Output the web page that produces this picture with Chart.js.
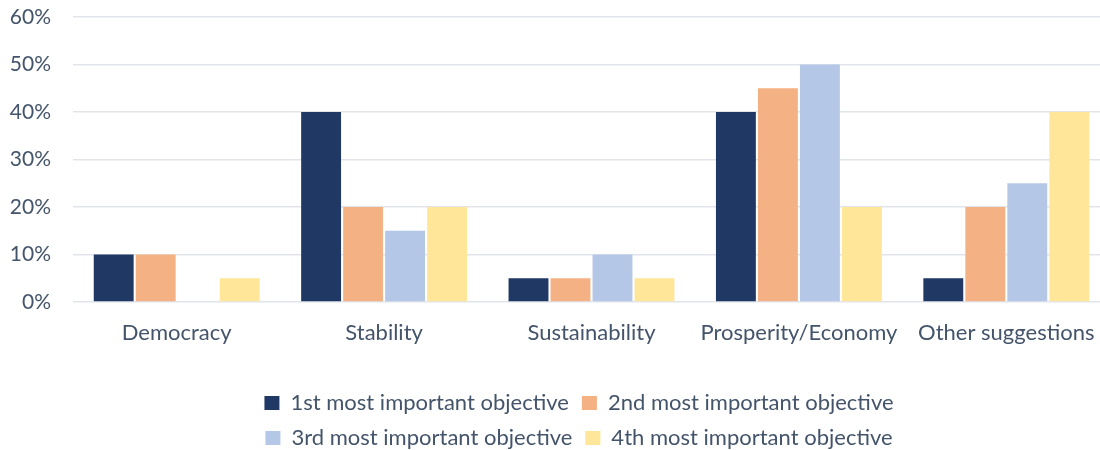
<!DOCTYPE html>
<html>
<head>
<meta charset="utf-8">
<script src="https://cdn.jsdelivr.net/npm/chart.js@4/dist/chart.umd.min.js"></script>
<style>
  html, body { margin: 0; padding: 0; background: #fff; }
  #wrap { width: 1100px; height: 450px; }
</style>
</head>
<body>
<div id="wrap"><canvas id="objectives" width="1100" height="450"></canvas></div>
<script>
const categories = ["Democracy", "Stability", "Sustainability", "Prosperity/Economy", "Other suggestions"];
const seriesNames = [
  "1st most important objective",
  "2nd most important objective",
  "3rd most important objective",
  "4th most important objective"
];
const first = [10, 40, 5, 40, 5];
const second = [10, 20, 5, 45, 20];
const third = [0, 15, 10, 50, 25];
const fourth = [5, 20, 5, 20, 40];
const yTicks = [0, 10, 20, 30, 40, 50, 60];

const colors = ["#203864", "#F4B183", "#B4C7E7", "#FFE699"];
const textColor = "#44546A";
const fontFamily = "Lato, 'Open Sans', sans-serif";

// legend: two rows of two items, sitting near the bottom edge
const LEGEND_W = 700;
const LEGEND_H = 100;
const LEGEND_CENTER = 579;
const LEGEND_TOP = 379;
// category axis runs a little past the right edge of the canvas
const X_RIGHT = 1110;

const customLayout = {
  id: "customLayout",
  beforeLayout(chart) {
    const lg = chart.legend;
    if (!lg || lg._wrapped) return;
    const fit = lg.fit;
    lg.fit = function () {
      const full = this.maxWidth;
      this.maxWidth = LEGEND_W;
      fit.call(this);
      this.maxWidth = full;
      this.width = full;
      this.height = LEGEND_H;
    };
    lg._wrapped = true;
  },
  afterLayout(chart) {
    const lg = chart.legend;
    if (lg) {
      lg.left = LEGEND_CENTER - LEGEND_W / 2;
      lg.right = LEGEND_CENTER + LEGEND_W / 2;
      lg.width = LEGEND_W;
      lg.top = LEGEND_TOP;
      lg.bottom = LEGEND_TOP + LEGEND_H;
    }
    const x = chart.scales.x;
    x.right = X_RIGHT;
    x.width = x.right - x.left;
    x.configure();
  }
};

// drop the extra room scales reserve around their edge labels
function noEdgePadding(axis) {
  axis.paddingTop = 0;
  axis.paddingBottom = 0;
  axis.paddingLeft = 0;
  axis.paddingRight = 0;
}

const ctx = document.getElementById("objectives");

new Chart(ctx, {
  type: "bar",
  data: {
    labels: categories,
    datasets: [first, second, third, fourth].map((vals, i) => ({
      label: seriesNames[i],
      data: vals,
      backgroundColor: colors[i],
      borderWidth: 0,
      categoryPercentage: 0.81,
      barPercentage: 0.95
    }))
  },
  options: {
    responsive: false,
    animation: false,
    layout: { autoPadding: false, padding: { top: 17, right: 0, left: 0, bottom: 0 } },
    scales: {
      x: {
        grid: { display: false, drawTicks: false },
        border: { display: false },
        afterFit(axis) {
          axis.height = 48;
          noEdgePadding(axis);
        },
        ticks: {
          color: textColor,
          font: { family: fontFamily, size: 22 },
          padding: 18
        }
      },
      y: {
        min: 0,
        max: 60,
        afterBuildTicks(axis) {
          axis.ticks = yTicks.map(v => ({ value: v }));
        },
        afterFit(axis) {
          axis.width = 73;
          noEdgePadding(axis);
        },
        grid: { color: "#E1E5EB", lineWidth: 1.5, drawTicks: false },
        border: { display: false },
        ticks: {
          color: textColor,
          font: { family: fontFamily, size: 21 },
          padding: 22,
          callback: v => v + "%"
        }
      }
    },
    plugins: {
      legend: {
        position: "bottom",
        labels: {
          color: textColor,
          font: { family: fontFamily, size: 22 },
          boxWidth: 15,
          boxHeight: 14,
          padding: 13
        }
      },
      tooltip: { enabled: false }
    }
  },
  plugins: [customLayout]
});
</script>
</body>
</html>
